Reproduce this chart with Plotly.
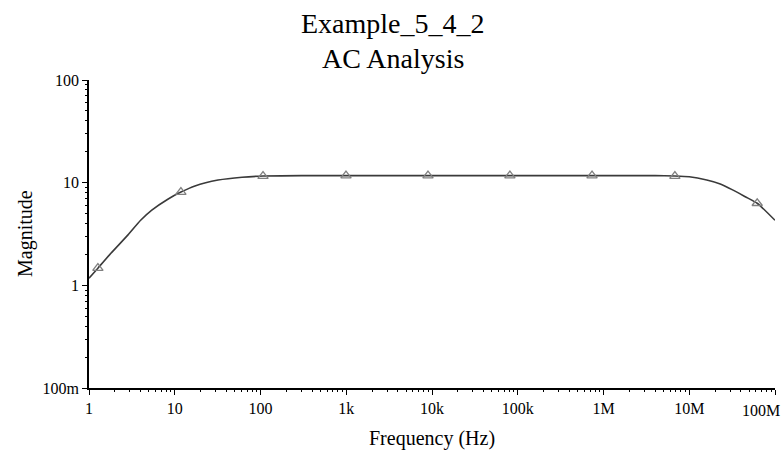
# Packages:
import plotly.graph_objects as go

# Data:
freq = [1, 1.27, 1.8, 2.85, 4, 5.4, 8.3, 11.8, 17.2, 32, 61, 107, 300, 1e3, 1e4, 1e5, 1e6,
        4e6, 6.8e6, 1e7, 1.6e7, 2.3e7, 3.2e7, 4.5e7, 6.2e7, 1e8]
mag = [1.17, 1.47, 2.05, 3.1, 4.3, 5.4, 6.9, 8.1, 9.3, 10.6, 11.3, 11.6, 11.7, 11.7,
       11.7, 11.7, 11.7, 11.7, 11.6, 11.4, 10.6, 9.7, 8.5, 7.3, 6.3, 4.3]
marker_freq = [1.27, 11.8, 107, 993, 8.98e3, 8.1e4, 7.35e5, 6.8e6, 6.2e7]
marker_mag = [1.47, 8.1, 11.6, 11.7, 11.7, 11.7, 11.7, 11.6, 6.3]

x_tickvals = [1, 10, 100, 1e3, 1e4, 1e5, 1e6, 1e7, 1e8]
x_ticktext = ["1", "10", "100", "1k", "10k", "100k", "1M", "10M", ""]
last_x_label = "100M"   # drawn as an annotation, pulled in from the right edge
y_tickvals = [0.1, 1, 10, 100]
y_ticktext = ["100m", "1", "10", "100"]

font_family = "Liberation Serif"

# Minor ticks at 2..9 of every decade:
x_minor = [m * 10 ** d for d in range(0, 8) for m in range(2, 10)]
y_minor = [m * 10 ** d for d in range(-1, 2) for m in range(2, 10)]

# Plot:
fig = go.Figure()
fig.add_trace(go.Scatter(
    x = freq, y = mag,
    mode = "lines",
    line = dict(color = "#3a3a3a", width = 1.6, shape = "spline", smoothing = 0.6),
    showlegend = False
))
fig.add_trace(go.Scatter(
    x = marker_freq, y = marker_mag,
    mode = "markers",
    marker = dict(symbol = "triangle-up-open", size = 9, color = "#808080",
                  line = dict(width = 1.3, color = "#808080")),
    showlegend = False
))

axis_common = dict(
    type = "log",
    automargin = False,
    showgrid = False,
    zeroline = False,
    showline = True,
    linecolor = "black",
    linewidth = 1.5,
    ticks = "outside",
    ticklen = 5,
    tickwidth = 1.2,
    tickcolor = "black",
    tickfont = dict(family = font_family, size = 16, color = "black"),
)

fig.update_xaxes(
    axis_common,
    range = [0, 8],
    tickvals = x_tickvals,
    ticktext = x_ticktext,
    minor = dict(tickvals = x_minor, ticks = "outside", ticklen = 2, tickcolor = "black", showgrid = False),
)
fig.update_yaxes(
    axis_common,
    range = [-1, 2],
    tickvals = y_tickvals,
    ticktext = y_ticktext,
    minor = dict(tickvals = y_minor, ticks = "outside", ticklen = 2, tickcolor = "black", showgrid = False),
)

text_font = dict(family = font_family, color = "black")
fig.update_layout(
    width = 783,
    height = 460,
    margin = dict(l = 89, r = 8, t = 80, b = 72),
    plot_bgcolor = "white",
    paper_bgcolor = "white",
    annotations = [
        dict(text = "Example_5_4_2", xref = "paper", yref = "paper", x = 0.443, y = 1,
             yshift = 57, xanchor = "center", yanchor = "middle", showarrow = False,
             font = dict(text_font, size = 28)),
        dict(text = "AC Analysis", xref = "paper", yref = "paper", x = 0.443, y = 1,
             yshift = 22, xanchor = "center", yanchor = "middle", showarrow = False,
             font = dict(text_font, size = 28)),
        dict(text = "Frequency (Hz)", xref = "paper", yref = "paper", x = 0.5, y = 0,
             yshift = -50, xanchor = "center", yanchor = "middle", showarrow = False,
             font = dict(text_font, size = 20)),
        dict(text = "Magnitude", xref = "paper", yref = "paper", x = 0, y = 0.5,
             xshift = -64, xanchor = "center", yanchor = "middle", textangle = -90,
             showarrow = False, font = dict(text_font, size = 20)),
        dict(text = last_x_label, xref = "paper", yref = "paper", x = 1, y = 0,
             xshift = 7, yshift = -22, xanchor = "right", yanchor = "middle",
             showarrow = False, font = dict(text_font, size = 16)),
    ],
)

# Drop the default 8px body margin so the figure fills the window
fig.write_html("out.html", config = {"displayModeBar": False},
               post_script = "document.body.style.margin = '0'; document.body.style.overflow = 'hidden';")
